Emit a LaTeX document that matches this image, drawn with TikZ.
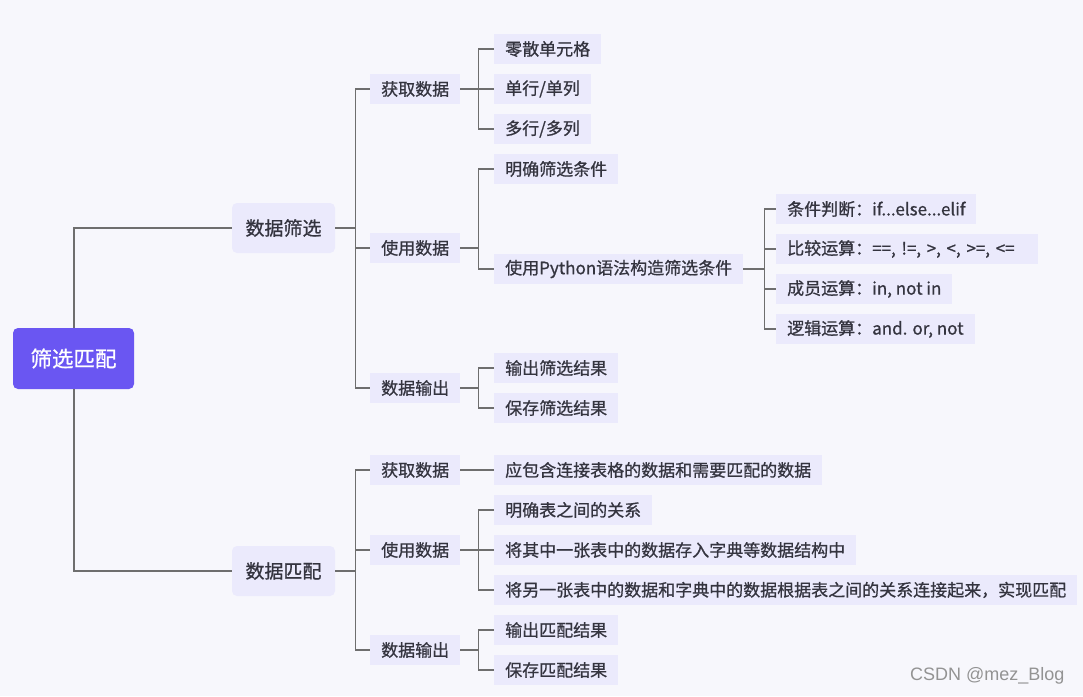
\documentclass[tikz,border=0pt]{standalone}
\usepackage{fontspec}
\setmainfont{Noto Sans CJK SC}[FakeBold=0.8]
\newfontfamily\markfont{Liberation Sans}
\usetikzlibrary{positioning}

\definecolor{bgcol}{HTML}{F7F7FC}
\definecolor{rootcol}{HTML}{6A56F2}
\definecolor{boxcol}{HTML}{EBEAFC}
\definecolor{txtcol}{HTML}{34343F}
\definecolor{linecol}{HTML}{6E6E6E}

\tikzset{
	rootbox/.style={fill=rootcol, text=white, rounded corners=5pt, minimum width=121pt, minimum height=61pt, inner sep=0pt, font=\fontsize{21.5}{24}\selectfont},
	topicbox/.style={fill=boxcol, text=txtcol, rounded corners=5pt, minimum width=103pt, minimum height=50pt, inner sep=0pt, font=\fontsize{19}{22}\selectfont},
	itembox/.style={fill=boxcol, text=txtcol, anchor=west, inner xsep=11pt, inner ysep=0pt, minimum height=30pt, font=\fontsize{17}{20}\selectfont},
	trunk/.style={draw=linecol, line width=2pt},
	branch/.style={draw=linecol, line width=1.4pt}
}

\begin{document}
\begin{tikzpicture}[x=1pt, y=-1pt]
	\fill[bgcol] (0,0) rectangle (1083,696);

	\node[rootbox] (root) at (73.5,358.5) {筛选匹配};
	\node[topicbox] (sx) at (283.5,228) {数据筛选};
	\node[topicbox] (pp) at (283.5,571) {数据匹配};

	% first topic
	\node[itembox] (sxget) at (370,89) {获取数据};
	\node[itembox] (sxuse) at (370,248) {使用数据};
	\node[itembox] (sxout) at (370,388) {数据输出};

	\node[itembox] (sxgeta) at (494,49) {零散单元格};
	\node[itembox] (sxgetb) at (494,89) {单行/单列};
	\node[itembox] (sxgetc) at (494,129) {多行/多列};
	\node[itembox] (sxusea) at (494,169) {明确筛选条件};
	\node[itembox] (sxuseb) at (494,269) {使用Python语法构造筛选条件};
	\node[itembox] (sxouta) at (494,368) {输出筛选结果};
	\node[itembox] (sxoutb) at (494,408) {保存筛选结果};

	\node[itembox] (conda) at (776,209) {条件判断：if...else...elif};
	\node[itembox, text width=240pt] (condb) at (776,249) {比较运算：==, !=, >, <, >=, <=};
	\node[itembox] (condc) at (776,289) {成员运算：in, not in};
	\node[itembox] (condd) at (776,329) {逻辑运算：and. or, not};

	% second topic
	\node[itembox] (ppget) at (370,470) {获取数据};
	\node[itembox] (ppuse) at (370,550) {使用数据};
	\node[itembox] (ppout) at (370,650) {数据输出};

	\node[itembox] (ppgeta) at (494,470) {应包含连接表格的数据和需要匹配的数据};
	\node[itembox] (ppusea) at (494,510) {明确表之间的关系};
	\node[itembox] (ppuseb) at (494,550) {将其中一张表中的数据存入字典等数据结构中};
	\node[itembox] (ppusec) at (494,590) {将另一张表中的数据和字典中的数据根据表之间的关系连接起来，实现匹配};
	\node[itembox] (ppouta) at (494,630) {输出匹配结果};
	\node[itembox] (ppoutb) at (494,670) {保存匹配结果};

	% connectors from the root
	\draw[trunk] (root.north) |- (sx.west);
	\draw[trunk] (root.south) |- (pp.west);

	\draw[branch] (sx.east) -- +(20,0) |- (sxget.west);
	\draw[branch] (sx.east) -- +(20,0) |- (sxuse.west);
	\draw[branch] (sx.east) -- +(20,0) |- (sxout.west);
	\draw[branch] (sxget.east) -- +(18,0) |- (sxgeta.west);
	\draw[branch] (sxget.east) -- +(18,0) |- (sxgetb.west);
	\draw[branch] (sxget.east) -- +(18,0) |- (sxgetc.west);
	\draw[branch] (sxuse.east) -- +(18,0) |- (sxusea.west);
	\draw[branch] (sxuse.east) -- +(18,0) |- (sxuseb.west);
	\draw[branch] (sxout.east) -- +(18,0) |- (sxouta.west);
	\draw[branch] (sxout.east) -- +(18,0) |- (sxoutb.west);
	\draw[branch] (sxuseb.east) -- +(21,0) |- (conda.west);
	\draw[branch] (sxuseb.east) -- +(21,0) |- (condb.west);
	\draw[branch] (sxuseb.east) -- +(21,0) |- (condc.west);
	\draw[branch] (sxuseb.east) -- +(21,0) |- (condd.west);

	\draw[branch] (pp.east) -- +(20,0) |- (ppget.west);
	\draw[branch] (pp.east) -- +(20,0) |- (ppuse.west);
	\draw[branch] (pp.east) -- +(20,0) |- (ppout.west);
	\draw[branch] (ppget.east) -- (ppgeta.west);
	\draw[branch] (ppuse.east) -- +(18,0) |- (ppusea.west);
	\draw[branch] (ppuse.east) -- +(18,0) |- (ppuseb.west);
	\draw[branch] (ppuse.east) -- +(18,0) |- (ppusec.west);
	\draw[branch] (ppout.east) -- +(18,0) |- (ppouta.west);
	\draw[branch] (ppout.east) -- +(18,0) |- (ppoutb.west);

	% watermark
	\node[anchor=east, text=gray!85, font=\markfont\fontsize{18}{20}\selectfont] (mark) at (1068,676) {CSDN @mez\_Blog};
\end{tikzpicture}
\end{document}
